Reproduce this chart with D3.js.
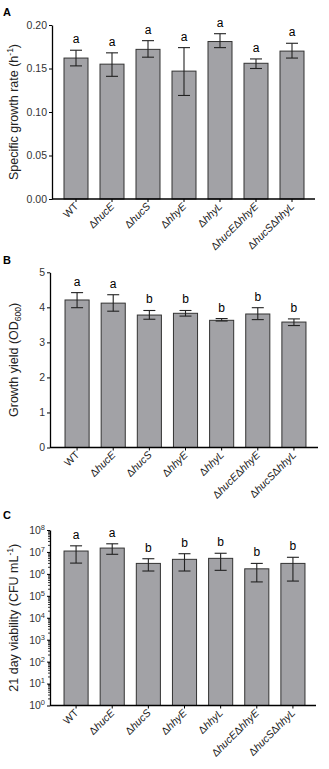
<!DOCTYPE html>
<html><head><meta charset="utf-8">
<script src="https://cdn.jsdelivr.net/npm/d3@7"></script>
<style>body{margin:0;background:#fff}svg{display:block;font-family:"Liberation Sans",Arial,sans-serif}</style>
</head><body><svg id="c" width="329" height="769"></svg>
<script>
const strains = ["WT","ΔhucE","ΔhucS","ΔhhyE","ΔhhyL","ΔhucEΔhhyE","ΔhucSΔhhyL"];
// Panel A: specific growth rate (h^-1)
const rateMean = [0.162,0.155,0.172,0.147,0.181,0.156,0.170];
const rateLo   = [0.153,0.141,0.163,0.119,0.174,0.150,0.162];
const rateHi   = [0.171,0.168,0.182,0.174,0.190,0.161,0.179];
const rateLetters = ["a","a","a","a","a","a","a"];
const rateTicks = [0,0.05,0.10,0.15,0.20];
// Panel B: growth yield (OD600)
const yieldMean = [4.21,4.12,3.78,3.83,3.63,3.81,3.58];
const yieldLo   = [3.99,3.89,3.66,3.75,3.61,3.65,3.48];
const yieldHi   = [4.42,4.36,3.91,3.91,3.68,3.99,3.67];
const yieldLetters = ["a","a","b","b","b","b","b"];
const yieldTicks = [0,1,2,3,4,5];
// Panel C: 21 day viability (CFU mL^-1)
const viabMean = [1.1e7,1.5e7,3.0e6,4.6e6,5.1e6,1.7e6,3.0e6];
const viabLo   = [3.1e6,7.8e6,1.35e6,1.35e6,1.45e6,4.3e5,4.7e5];
const viabHi   = [1.9e7,2.35e7,4.9e6,8.3e6,8.7e6,3.0e6,5.7e6];
const viabLetters = ["a","a","b","b","b","b","b"];
const viabTicks = [1,1e1,1e2,1e3,1e4,1e5,1e6,1e7,1e8];

const svg = d3.select("#c");
const BAR = "#a2a2a6", DARK = "#222";

function strainParts(name){
  if (name === "WT") return [{t:"WT",it:false}];
  const out = [];
  name.split("Δ").filter(s=>s.length).forEach(p=>{ out.push({t:"Δ",it:false}); out.push({t:p,it:true}); });
  return out;
}

function panel(o){
  const g = svg.append("g");
  const x = d3.scaleBand().domain(strains).range([o.x0,o.x1]).paddingInner(1/3).paddingOuter(1/6);
  const y = o.y;
  g.selectAll("rect.bar").data(strains).join("rect")
    .attr("x", d=>x(d)).attr("width", x.bandwidth())
    .attr("y", (d,i)=>y(o.mean[i])).attr("height",(d,i)=>y(o.base)-y(o.mean[i]))
    .attr("fill",BAR).attr("stroke","#333").attr("stroke-width",1);
  strains.forEach((d,i)=>{
    const cx = x(d)+x.bandwidth()/2;
    const eg = g.append("g").attr("stroke",DARK).attr("stroke-width",1.1);
    eg.append("line").attr("x1",cx).attr("x2",cx).attr("y1",y(o.lo[i])).attr("y2",y(o.hi[i]));
    eg.append("line").attr("x1",cx-6).attr("x2",cx+6).attr("y1",y(o.lo[i])).attr("y2",y(o.lo[i]));
    eg.append("line").attr("x1",cx-6).attr("x2",cx+6).attr("y1",y(o.hi[i])).attr("y2",y(o.hi[i]));
    g.append("text").attr("x",cx).attr("y",y(o.hi[i])-7).attr("text-anchor","middle")
      .attr("font-size",12).attr("fill","#000").text(o.letters[i]);
  });
  const ya = d3.axisLeft(y).tickValues(o.ticks).tickSize(3).tickSizeOuter(0).tickPadding(2);
  if (o.fmt) ya.tickFormat(o.fmt);
  const yg = g.append("g").attr("transform",`translate(${o.ax},0)`).call(ya);
  yg.select(".domain").attr("stroke","#000").attr("stroke-width",1.3);
  yg.selectAll(".tick line").attr("stroke","#000");
  yg.selectAll(".tick text").attr("font-size",10.5).attr("fill","#333").attr("font-family","Liberation Sans, Arial, sans-serif");
  if (o.log) {
    yg.selectAll(".tick text").text(null).each(function(d){
      const t = d3.select(this);
      t.append("tspan").text("10");
      t.append("tspan").attr("dy",-4).attr("font-size",7.5).text(Math.round(Math.log10(d)));
    });
    const minors = [];
    for (let e=0;e<8;e++) for (let k=2;k<=9;k++) minors.push(k*Math.pow(10,e));
    yg.selectAll("line.minor").data(minors).join("line").attr("class","minor")
      .attr("x1",-2).attr("x2",0).attr("y1",d=>y(d)).attr("y2",d=>y(d)).attr("stroke","#000").attr("stroke-width",0.8);
  }
  const xg = g.append("g").attr("transform",`translate(0,${y(o.base)})`)
    .call(d3.axisBottom(x).tickSize(3).tickFormat(""));
  xg.select(".domain").remove();
  xg.selectAll(".tick line").attr("stroke","#000");
  g.append("line").attr("x1",o.ax).attr("x2",o.xend).attr("y1",y(o.base)).attr("y2",y(o.base))
    .attr("stroke","#000").attr("stroke-width",1.3);
  strains.forEach(d=>{
    const cx = x(d)+x.bandwidth()/2 + 3;
    const rg = g.append("g").attr("transform",`translate(${cx},${y(o.base)+8}) rotate(-45)`);
    const parts = strainParts(d).reverse();
    let pos = 0;
    parts.forEach(p=>{
      const t = rg.append("text").attr("x",pos).attr("y",0).attr("text-anchor","end")
        .attr("font-size",10.5).attr("fill","#222").attr("font-style",p.it?"italic":"normal").text(p.t);
      pos -= t.node().getComputedTextLength();
    });
  });
  const ty = (y.range()[0]+y.range()[1])/2;
  const tt = g.append("text").attr("transform",`translate(18,${ty}) rotate(-90)`)
    .attr("text-anchor","middle").attr("font-size",12.5).attr("fill","#222");
  o.title(tt);
  g.append("text").attr("x",3).attr("y",o.letterY).attr("font-size",11).attr("font-weight","bold").text(o.letter);
}

panel({
  x0:58,x1:310,ax:52,xend:315,
  y:d3.scaleLinear().domain([0,0.2]).range([199,25]),base:0,
  mean:rateMean,lo:rateLo,hi:rateHi,letters:rateLetters,ticks:rateTicks,fmt:d3.format(".2f"),
  letter:"A",letterY:16,
  title:t=>{t.append("tspan").text("Specific growth rate (h");t.append("tspan").attr("dy",-5).attr("font-size",8.5).text("-1");t.append("tspan").attr("dy",5).text(")");}
});
panel({
  x0:59,x1:312,ax:50,xend:318,
  y:d3.scaleLinear().domain([0,5]).range([447.5,272.3]),base:0,
  mean:yieldMean,lo:yieldLo,hi:yieldHi,letters:yieldLetters,ticks:yieldTicks,fmt:d3.format("d"),
  letter:"B",letterY:264,
  title:t=>{t.append("tspan").text("Growth yield (OD");t.append("tspan").attr("dy",3).attr("font-size",8.5).text("600");t.append("tspan").attr("dy",-3).text(")");}
});
panel({
  x0:58,x1:311,ax:50,xend:316,
  y:d3.scaleLog().domain([1,1e8]).range([705.5,530]),base:1,log:true,
  mean:viabMean,lo:viabLo,hi:viabHi,letters:viabLetters,ticks:viabTicks,
  letter:"C",letterY:519,
  title:t=>{t.append("tspan").text("21 day viability (CFU mL");t.append("tspan").attr("dy",-5).attr("font-size",8.5).text("-1");t.append("tspan").attr("dy",5).text(")");}
});
</script></body></html>
